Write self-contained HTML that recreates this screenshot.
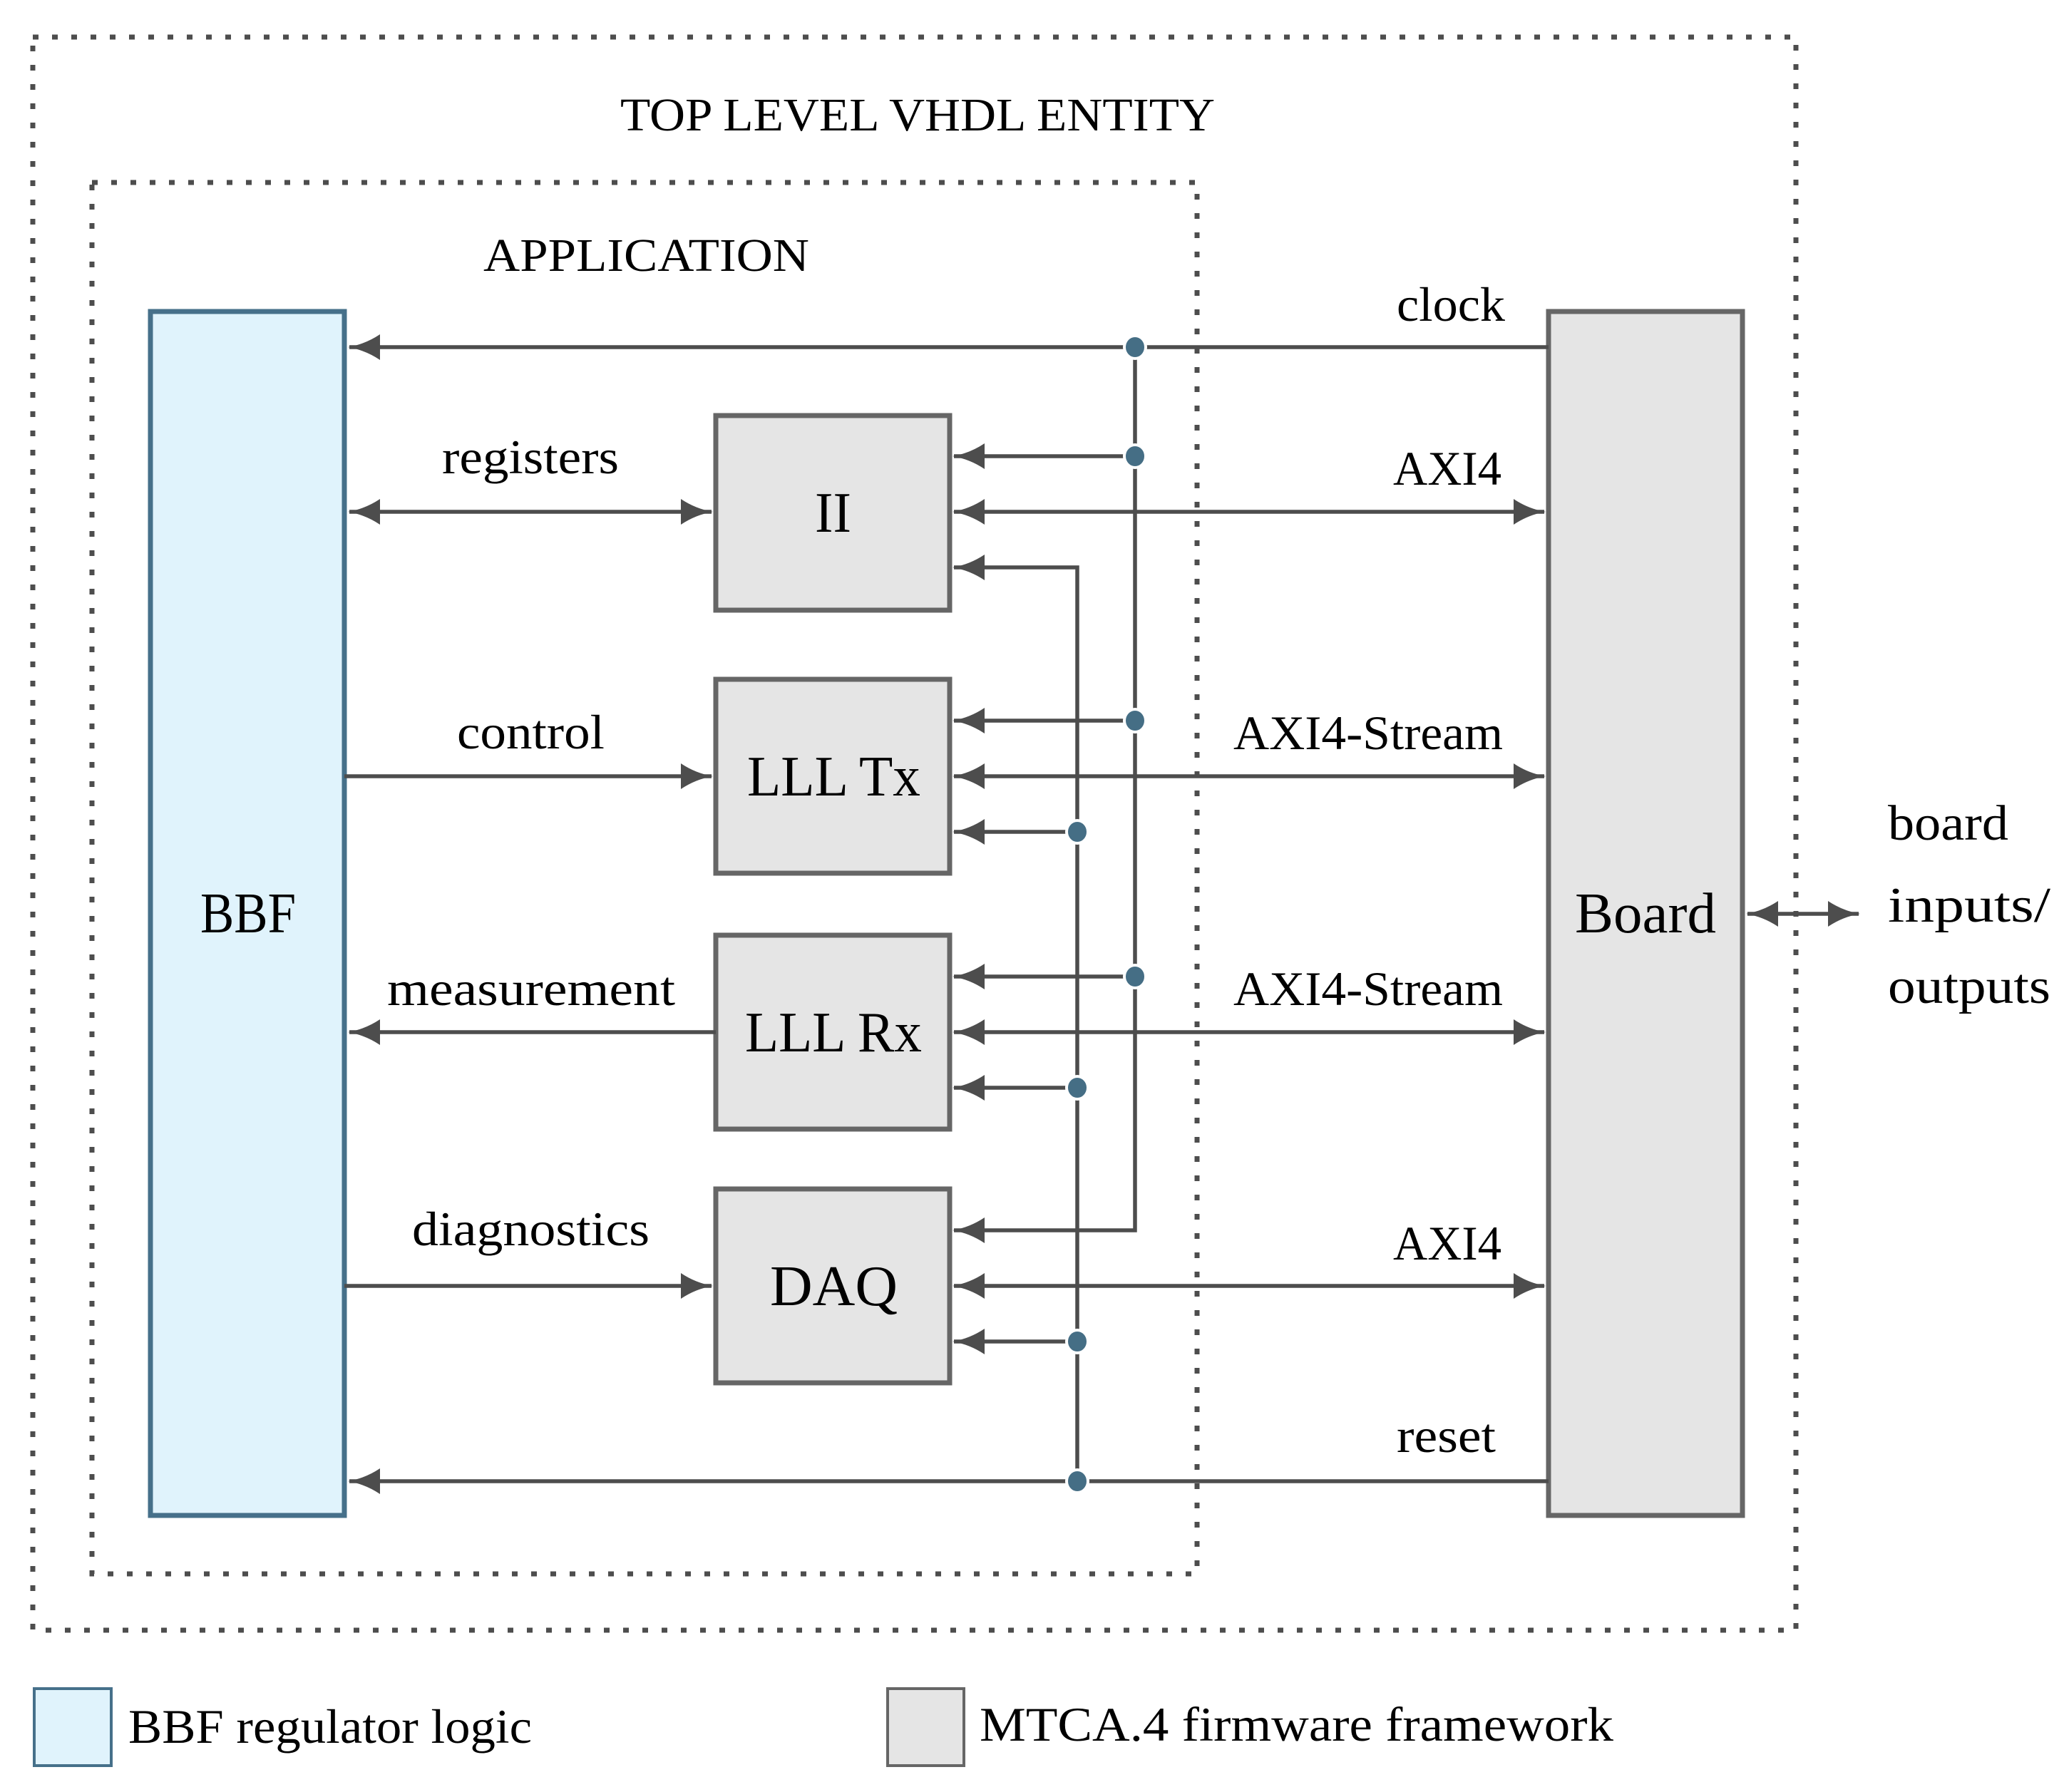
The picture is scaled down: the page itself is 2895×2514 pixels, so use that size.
<!DOCTYPE html>
<html><head><meta charset="utf-8"><style>
html,body{margin:0;padding:0;background:#fff;}
svg{display:block;}
text{font-family:"Liberation Serif",serif;fill:#000;}
</style></head><body>
<svg width="2895" height="2514" viewBox="0 0 2895 2514" xmlns="http://www.w3.org/2000/svg">
<defs>
<marker id="ah" markerUnits="userSpaceOnUse" markerWidth="60" markerHeight="50" refX="0" refY="0" viewBox="-48 -25 56 50" orient="auto-start-reverse">
<path d="M2,0 Q-22,-4 -43,-18 L-43,18 Q-22,4 2,0 Z" fill="#4d4d4d"/>
</marker>
</defs>
<g fill="none" stroke="#4d4d4d" stroke-width="7" stroke-dasharray="8 19">
<rect x="46" y="52" width="2473" height="2235"/>
<rect x="129" y="256" width="1550" height="1952"/>
</g>
<text x="870" y="183" font-size="66" textLength="834" lengthAdjust="spacingAndGlyphs">TOP LEVEL VHDL ENTITY</text>
<text x="678" y="380" font-size="66" textLength="457" lengthAdjust="spacingAndGlyphs">APPLICATION</text>

<rect x="211" y="437" width="272" height="1689" fill="#e0f3fc" stroke="#46708a" stroke-width="7"/>
<rect x="2172" y="437" width="272" height="1689" fill="#e5e5e5" stroke="#666" stroke-width="7"/>
<rect x="1004" y="583" width="328" height="273" fill="#e5e5e5" stroke="#666" stroke-width="7"/>
<rect x="1004" y="953" width="328" height="272" fill="#e5e5e5" stroke="#666" stroke-width="7"/>
<rect x="1004" y="1312" width="328" height="272" fill="#e5e5e5" stroke="#666" stroke-width="7"/>
<rect x="1004" y="1668" width="328" height="272" fill="#e5e5e5" stroke="#666" stroke-width="7"/>

<g font-size="80">
<text x="281" y="1308" textLength="134" lengthAdjust="spacingAndGlyphs">BBF</text>
<text x="2209" y="1308" textLength="198" lengthAdjust="spacingAndGlyphs">Board</text>
<text x="1143" y="746" textLength="51" lengthAdjust="spacingAndGlyphs">II</text>
<text x="1048" y="1116" textLength="243" lengthAdjust="spacingAndGlyphs">LLL Tx</text>
<text x="1045" y="1475" textLength="248" lengthAdjust="spacingAndGlyphs">LLL Rx</text>
<text x="1080" y="1831" textLength="179" lengthAdjust="spacingAndGlyphs">DAQ</text>
</g>

<g stroke="#4d4d4d" stroke-width="5.5" fill="none">
<line x1="2172" y1="487" x2="490" y2="487" marker-end="url(#ah)"/>
<line x1="2172" y1="2078" x2="490" y2="2078" marker-end="url(#ah)"/>
<line x1="490" y1="718" x2="998" y2="718" marker-start="url(#ah)" marker-end="url(#ah)"/>
<line x1="483" y1="1089" x2="998" y2="1089" marker-end="url(#ah)"/>
<line x1="1004" y1="1448" x2="490" y2="1448" marker-end="url(#ah)"/>
<line x1="483" y1="1804" x2="998" y2="1804" marker-end="url(#ah)"/>
<line x1="1338" y1="718" x2="2166" y2="718" marker-start="url(#ah)" marker-end="url(#ah)"/>
<line x1="1338" y1="1089" x2="2166" y2="1089" marker-start="url(#ah)" marker-end="url(#ah)"/>
<line x1="1338" y1="1448" x2="2166" y2="1448" marker-start="url(#ah)" marker-end="url(#ah)"/>
<line x1="1338" y1="1804" x2="2166" y2="1804" marker-start="url(#ah)" marker-end="url(#ah)"/>
<line x1="2451" y1="1282" x2="2607" y2="1282" marker-start="url(#ah)" marker-end="url(#ah)"/>
<polyline points="1592,487 1592,1726 1338,1726" marker-end="url(#ah)"/>
<line x1="1592" y1="640" x2="1338" y2="640" marker-end="url(#ah)"/>
<line x1="1592" y1="1011" x2="1338" y2="1011" marker-end="url(#ah)"/>
<line x1="1592" y1="1370" x2="1338" y2="1370" marker-end="url(#ah)"/>
<polyline points="1511,2078 1511,796 1338,796" marker-end="url(#ah)"/>
<line x1="1511" y1="1167" x2="1338" y2="1167" marker-end="url(#ah)"/>
<line x1="1511" y1="1526" x2="1338" y2="1526" marker-end="url(#ah)"/>
<line x1="1511" y1="1882" x2="1338" y2="1882" marker-end="url(#ah)"/>
</g>
<g fill="#456e85" stroke="#fff" stroke-width="4">
<ellipse cx="1592" cy="487" rx="15" ry="16"/>
<ellipse cx="1592" cy="640" rx="15" ry="16"/>
<ellipse cx="1592" cy="1011" rx="15" ry="16"/>
<ellipse cx="1592" cy="1370" rx="15" ry="16"/>
<ellipse cx="1511" cy="1167" rx="15" ry="16"/>
<ellipse cx="1511" cy="1526" rx="15" ry="16"/>
<ellipse cx="1511" cy="1882" rx="15" ry="16"/>
<ellipse cx="1511" cy="2078" rx="15" ry="16"/>
</g>

<g font-size="68">
<text x="620" y="664" textLength="248" lengthAdjust="spacingAndGlyphs">registers</text>
<text x="641" y="1050" textLength="207" lengthAdjust="spacingAndGlyphs">control</text>
<text x="543" y="1410" textLength="404" lengthAdjust="spacingAndGlyphs">measurement</text>
<text x="578" y="1747" textLength="333" lengthAdjust="spacingAndGlyphs">diagnostics</text>
<text x="1959" y="450" textLength="152" lengthAdjust="spacingAndGlyphs">clock</text>
<text x="1954" y="680" textLength="152" lengthAdjust="spacingAndGlyphs">AXI4</text>
<text x="1730" y="1051" textLength="378" lengthAdjust="spacingAndGlyphs">AXI4-Stream</text>
<text x="1730" y="1410" textLength="378" lengthAdjust="spacingAndGlyphs">AXI4-Stream</text>
<text x="1954" y="1767" textLength="152" lengthAdjust="spacingAndGlyphs">AXI4</text>
<text x="1959" y="2037" textLength="139" lengthAdjust="spacingAndGlyphs">reset</text>
</g>
<g font-size="70">
<text x="2648" y="1178" textLength="169" lengthAdjust="spacingAndGlyphs">board</text>
<text x="2648" y="1293" textLength="228" lengthAdjust="spacingAndGlyphs">inputs/</text>
<text x="2648" y="1407" textLength="228" lengthAdjust="spacingAndGlyphs">outputs</text>
</g>

<rect x="48" y="2369" width="108" height="108" fill="#e0f3fc" stroke="#46708a" stroke-width="4"/>
<rect x="1245" y="2369" width="107" height="108" fill="#e5e5e5" stroke="#666" stroke-width="4"/>
<text x="180" y="2445" font-size="68" textLength="566" lengthAdjust="spacingAndGlyphs">BBF regulator logic</text>
<text x="1374" y="2442" font-size="68" textLength="889" lengthAdjust="spacingAndGlyphs">MTCA.4 firmware framework</text>
</svg>
</body></html>
